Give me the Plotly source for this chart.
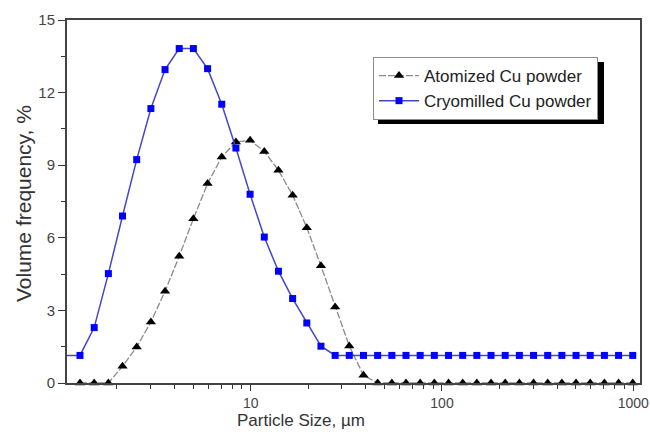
import plotly.graph_objects as go

# Particle size classes (µm)
size_um = [1.081, 1.282, 1.521, 1.804, 2.139, 2.537, 3.009, 3.568, 4.232, 5.019,
           5.953, 7.060, 8.373, 9.931, 11.78, 13.97, 16.57, 19.65, 23.30, 27.64,
           32.77, 38.87, 46.10, 54.68, 64.84, 76.90, 91.20, 108.2, 128.3, 152.1,
           180.4, 214.0, 253.8, 301.0, 356.9, 423.3, 502.0, 595.4, 706.3, 837.5,
           993.4]

# Volume frequency (%)
atomized = [None, 0.0, 0.0, 0.0, 0.69, 1.49, 2.52, 3.79, 5.24, 6.79,
            8.24, 9.34, 9.96, 10.03, 9.57, 8.79, 7.76, 6.42, 4.84, 3.14,
            1.53, 0.32, 0.0, 0.0, 0.0, 0.0, 0.0, 0.0, 0.0, 0.0,
            0.0, 0.0, 0.0, 0.0, 0.0, 0.0, 0.0, 0.0, 0.0, 0.0,
            0.0]
cryomilled = [1.14, 1.14, 2.29, 4.52, 6.90, 9.23, 11.34, 12.95, 13.82, 13.82,
              12.99, 11.52, 9.71, 7.80, 6.03, 4.62, 3.49, 2.48, 1.52, 1.14,
              1.14, 1.14, 1.14, 1.14, 1.14, 1.14, 1.14, 1.14, 1.14, 1.14,
              1.14, 1.14, 1.14, 1.14, 1.14, 1.14, 1.14, 1.14, 1.14, 1.14,
              1.14]

names = ["Atomized Cu powder", "Cryomilled Cu powder"]
x_ticks = [10, 100, 1000]
x_tick_text = ["10", "100", "1000"]
x_minor = [2, 3, 4, 5, 6, 7, 8, 9, 20, 30, 40, 50, 60, 70, 80, 90,
           200, 300, 400, 500, 600, 700, 800, 900]
y_ticks = [0, 3, 6, 9, 12, 15]

FONT = "Liberation Sans, Arial, sans-serif"

# plot area in pixels: x 67..640, y 20..383
L, R, T, B = 67, 640, 20, 383
PW, PH = R - L, B - T


def px(x):
    return (x - L) / PW


def py(y):
    return (B - y) / PH


fig = go.Figure()
fig.add_trace(go.Scatter(
    x=size_um, y=atomized, name=names[0], mode="lines+markers",
    line=dict(color="#8a8a8a", width=1.3, dash="7px,2px"),
    marker=dict(symbol="triangle-up", size=9, color="black"),
    cliponaxis=False, connectgaps=False,
))
fig.add_trace(go.Scatter(
    x=size_um, y=cryomilled, name=names[1], mode="lines+markers",
    line=dict(color="#4646c8", width=1.5),
    marker=dict(symbol="square", size=7, color="#0000ff"),
))

# legend shadow (offset 5 px right and down from the legend box)
LEG_TOP = 57
fig.add_shape(type="rect", xref="paper", yref="paper",
              x0=px(378), x1=px(604), y0=py(LEG_TOP + 67), y1=py(LEG_TOP + 5),
              fillcolor="black", line=dict(width=0), layer="above")

fig.update_layout(
    width=650, height=432,
    margin=dict(l=L, r=650 - R, t=T, b=432 - B),
    paper_bgcolor="white", plot_bgcolor="white",
    font=dict(family=FONT, color="#333333"),
    showlegend=True,
    legend=dict(x=px(373), y=py(LEG_TOP), xanchor="left", yanchor="top",
                bgcolor="white", bordercolor="#8c8c8c", borderwidth=1,
                font=dict(size=17, color="#222222"), itemwidth=40,
                tracegroupgap=0),
    xaxis=dict(type="log", range=[0.04, 3.035], automargin=False,
               tickvals=x_ticks, ticktext=x_tick_text,
               ticks="outside", ticklen=6, tickwidth=1.2, tickcolor="#333",
               minor=dict(tickvals=x_minor, ticks="outside", ticklen=4,
                          tickwidth=1.2, tickcolor="#333", showgrid=False),
               showgrid=False, zeroline=False,
               showline=True, linecolor="#444", linewidth=2, mirror=True,
               tickfont=dict(size=14, color="#444")),
    yaxis=dict(range=[0, 15], tickvals=y_ticks, automargin=False,
               ticks="outside", ticklen=7, tickwidth=1.2, tickcolor="#333",
               minor=dict(dtick=1.5, ticks="outside", ticklen=4,
                          tickwidth=1.2, tickcolor="#333", showgrid=False),
               showgrid=False, zeroline=False,
               showline=True, linecolor="#444", linewidth=2, mirror=True,
               tickfont=dict(size=15, color="#444")),
)

fig.add_annotation(text="Particle Size, µm", xref="paper", yref="paper",
                   x=px(301), y=py(432),
                   xanchor="center", yanchor="bottom", showarrow=False,
                   font=dict(size=17, color="#333"))
fig.add_annotation(text="Volume frequency, %", xref="paper", yref="paper",
                   x=px(23), y=py(204), textangle=-90,
                   xanchor="center", yanchor="middle", showarrow=False,
                   font=dict(size=21, color="#333"))

fig.write_html("out.html",
               config={"displayModeBar": False},
               post_script="document.body.style.margin='0';"
                           "document.body.style.overflow='hidden';")
